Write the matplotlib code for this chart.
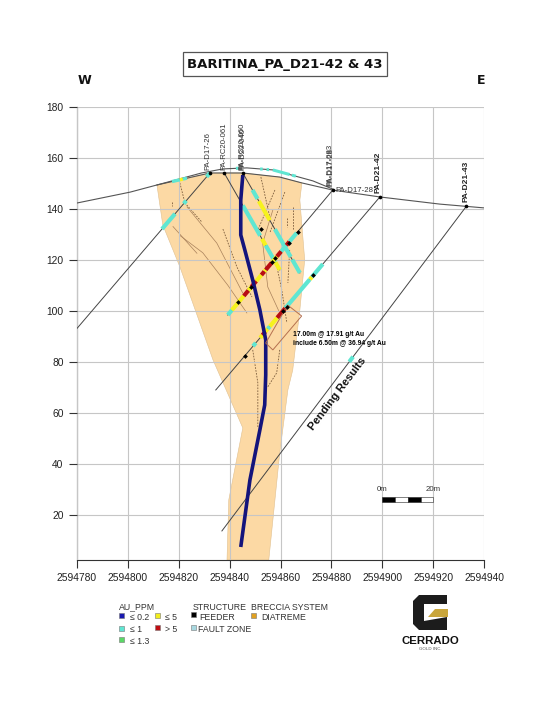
import numpy as np
import matplotlib
matplotlib.use("Agg")
import matplotlib.pyplot as plt
from matplotlib.patches import Polygon, Rectangle

plt.rcParams['font.family'] = ['Liberation Sans', 'DejaVu Sans']

E0 = 2594000  # eastings below are written without this

# topography
topo_x = [780, 801, 811.5, 832.3, 845.2, 859.7, 868.4, 880.5, 899, 922.5, 940]
topo_y = [142.2, 146.5, 149.3, 154, 154, 152.4, 150.1, 147.3, 144.6, 141.8, 140.3]
topo2_x = [811.5, 829, 837.4, 846.8, 857, 872.7, 880.5]
topo2_y = [149.3, 154, 155.6, 156, 155.2, 150.9, 147.7]

# diatreme outline
diat_x = [811.5, 832.3, 845.2, 859.7, 868.4, 867.6, 869.5, 867.6, 864.8, 862.9, 859.7,
          855.4, 839, 839.7, 845.2, 833.5, 820.5, 813.8]
diat_y = [149.3, 154, 154, 152.4, 150.1, 143.4, 119.9, 100.3, 76.7, 68.9, 44.2,
          2.2, 2.2, 25.8, 54, 80.7, 117.2, 133.6]

# main hole
blue_x = [845.2, 844.4, 844.4, 846, 849.1, 851.9, 854.2, 854.2, 853.8, 851.9, 848, 844.4]
blue_y = [153.2, 143.4, 129.7, 123.8, 112, 100.3, 88.5, 74.8, 63, 53.2, 33.6, 7.3]

# straight holes: collar and end
d17_26 = ([832.3, 780], [154, 92.9])
rc20_061 = ([837.9, 859.7], [154, 116])
rc20_060 = ([845.2, 867.6], [154, 114.8])
d17_28 = ([880.5, 839.3], [147.3, 98.3])
d21_42 = ([899, 834.6], [144.6, 68.9])
d21_43 = ([933, 837], [141, 13.6])

# assay intervals: from easting, to easting, grade class
iv_d17_26 = [(813.5, 818.6, 'c'), (822, 823, 'c'), (831, 832.3, 'c')]
iv_061 = [(845.2, 852, 'c'), (852.7, 854.2, 'y'), (854.2, 858, 'c'), (858, 859.7, 'y')]
iv_060 = [(849, 851, 'c'), (851.5, 855.8, 'y'), (857.8, 861.7, 'c'), (862, 864, 'c'), (864.6, 867.6, 'c')]
iv_d17_28 = [(839.3, 840.9, 'c'), (840.9, 845.6, 'y'), (845.6, 847.4, 'r'), (847.4, 848.6, 'y'),
             (848.6, 850.5, 'r'), (850.5, 852.5, 'y'), (852.5, 853.7, 'r'), (853.7, 854.2, 'y'),
             (854.2, 856.6, 'r'), (856.6, 858.6, 'y'), (858.6, 860.3, 'r'), (860.3, 862.3, 'c'),
             (862.3, 863.5, 'r'), (863.5, 866.4, 'c')]
iv_d21_42 = [(849.2, 850.3, 'c'), (852, 852.9, 'y'), (852.9, 854.1, 'r'), (854.1, 855, 'y'),
             (855, 855.8, 'c'), (855.8, 858.7, 'y'), (858.7, 861.9, 'r'), (861.9, 871.5, 'c'),
             (871.5, 872.3, 'y'), (872.3, 876.6, 'c')]
iv_d21_43 = [(887, 888.5, 'c')]
iv_topo = [(817.4, 820.5, 'c'), (820.5, 821.7, 'y'), (821.7, 823.3, 'c')]
iv_topo2 = [(842.5, 843.5, 'c'), (852, 853, 'c'), (854.5, 855.5, 'c'), (857, 863.6, 'c'), (864.5, 866, 'c')]

# feeder points on holes (eastings)
feed_d17_28 = [843.5, 848.5, 856.8, 858, 866.8]
feed_d21_42 = [846, 860.8, 862.4, 872.9]
feed_other = [(852.5, 132), (863.3, 126.5)]

# fault traces
solid_faults = [([817.8, 827.2], [133, 122.5]),
                ([820.5, 829.5, 839.3, 846.8], [129.5, 122.7, 110, 99.1]),
                ([823.3, 835, 845.2], [140.7, 126.5, 106.9]),
                ([857, 853, 855, 859.7], [139.5, 126.5, 109.3, 99.1])]
dash_faults = [([852.3, 855.8], [152.4, 136.7]),
               ([857.8, 851.1], [147.3, 131.6]),
               ([861.7, 855.8], [146.5, 130.5]),
               ([862.5, 862.5], [136.4, 132.8]),
               ([864.8, 864.8], [140.7, 131.6]),
               ([817.4, 817.4], [142.6, 141]),
               ([820.5, 822.5, 829.1], [150.1, 142.2, 134.8]),
               ([837.4, 842.9, 848.8], [132, 117.1, 105.4]),
               ([849.1, 851.1, 851.1], [84.6, 71.7, 54.4]),
               ([859.7, 858.5, 855], [84.6, 75.6, 70.1]),
               ([857.8, 860.5, 862.5], [121.1, 108.1, 95.2]),
               ([863.6, 862.9], [123.8, 110.9])]

# intercept box
box_x = [862.8, 868.3, 857, 854.2]
box_y = [102.2, 97.9, 84.6, 87.3]

x_ticks = [2594780, 2594800, 2594820, 2594840, 2594860, 2594880, 2594900, 2594920, 2594940]
y_ticks = [20, 40, 60, 80, 100, 120, 140, 160, 180]

colors = {'c': '#5fe6d2', 'y': '#f6f21e', 'r': '#b80d12'}

fig = plt.figure(figsize=(5.5, 7.11), dpi=100)
ax = fig.add_axes([76.7 / 550, 1 - 560 / 711, (484.3 - 76.7) / 550, (560 - 106.7) / 711])
ax.set_xlim(E0 + 780, E0 + 940)
ax.set_ylim(2.2, 180)
ax.set_xticks(x_ticks)
ax.set_yticks(y_ticks)
ax.ticklabel_format(useOffset=False, style='plain')
ax.tick_params(labelsize=7.4, length=6, width=0.8, color='#333333', labelcolor='#222222', pad=3.5)
ax.spines['top'].set_visible(False)
ax.spines['right'].set_visible(False)
ax.spines['left'].set_color('#333333')
ax.spines['bottom'].set_color('#333333')


def east(v):
    return np.asarray(v) + E0


ax.add_patch(Polygon(np.column_stack([east(diat_x), diat_y]), closed=True,
                     fc='#fcd9a4', ec='#e0c090', lw=0.4, zorder=1))
ax.grid(True, color='#c6c6c6', lw=0.8, zorder=1.6)
ax.set_axisbelow(False)
for g in ax.get_xgridlines() + ax.get_ygridlines():
    g.set_zorder(1.6)

for xs, ys in solid_faults:
    ax.plot(east(xs), ys, color='#a8805a', lw=0.5, zorder=2)
for xs, ys in dash_faults:
    ax.plot(east(xs), ys, color='#7a5a3a', lw=0.6, ls=(0, (2, 1.5)), zorder=2)

ax.plot(east(topo_x), topo_y, color='#555555', lw=0.8, zorder=3)
ax.plot(east(topo2_x), topo2_y, color='#555555', lw=0.8, zorder=3)

holes = [d17_26, rc20_061, rc20_060, d17_28, d21_42, d21_43]
for xs, ys in holes:
    ax.plot(east(xs), ys, color='#444444', lw=0.7, zorder=3)


def draw_intervals(hx, hy, intervals, lw=3.0):
    order = np.argsort(hx)
    hx = np.asarray(hx)[order]
    hy = np.asarray(hy)[order]
    for a, b, g in intervals:
        ya, yb = np.interp([a, b], hx, hy)
        ax.plot(east([a, b]), [ya, yb], color=colors[g], lw=lw, solid_capstyle='butt', zorder=4)


draw_intervals(*d17_26, iv_d17_26)
draw_intervals(*rc20_061, iv_061)
draw_intervals(*rc20_060, iv_060)
draw_intervals(*d17_28, iv_d17_28)
draw_intervals(*d21_42, iv_d21_42)
draw_intervals(*d21_43, iv_d21_43)
draw_intervals(topo_x, topo_y, iv_topo, lw=2.4)
draw_intervals(topo2_x, topo2_y, iv_topo2, lw=2.2)

ax.plot(east(blue_x), blue_y, color='#14147c', lw=2.6, solid_capstyle='butt', zorder=5)

# feeders
fx = feed_d17_28 + feed_d21_42 + [p[0] for p in feed_other]
fy = list(np.interp(feed_d17_28, d17_28[0][::-1], d17_28[1][::-1])) + \
    list(np.interp(feed_d21_42, d21_42[0][::-1], d21_42[1][::-1])) + [p[1] for p in feed_other]
ax.scatter(east(fx), fy, s=6, color='black', marker='D', lw=0, zorder=6)

# collars
collar_x = [h[0][0] for h in holes]
collar_y = [h[1][0] for h in holes]
ax.scatter(east(collar_x), collar_y, s=7, color='black', lw=0, zorder=6)

ax.add_patch(Polygon(np.column_stack([east(box_x), box_y]), closed=True, fc='none',
                     ec='#b5704f', lw=0.7, zorder=5))

# hole names, the overprinted ones are overprinted in the source too
lab = dict(rotation=90, ha='center', va='bottom', fontsize=5.6, color='#333333', zorder=7)
ax.text(east(831.6), 155, 'PA-D17-26', **lab)
ax.text(east(837.6), 155, 'PA-RC20-061', **lab)
ax.text(east(845.0), 155, 'PA-RC20-060', **lab)
ax.text(east(845.2), 155, 'PA-D20-040', **lab)
ax.text(east(879.4), 149, 'PA-D17-083', **lab)
ax.text(east(879.7), 149, 'PA-D17-28', **lab)
ax.text(east(881.5), 147.2, 'PA-D17-28', fontsize=5.6, color='#333333', va='center', zorder=7)
ax.text(east(898.3), 146.3, 'PA-D21-42', rotation=90, ha='center', va='bottom', fontsize=6,
        fontweight='bold', color='#222222', zorder=7)
ax.text(east(932.7), 142.5, 'PA-D21-43', rotation=90, ha='center', va='bottom', fontsize=6,
        fontweight='bold', color='#222222', zorder=7)

ax.text(east(865), 90.5, '17.00m @ 17.91 g/t Au', fontsize=4.9, fontweight='bold', va='center', zorder=7)
ax.text(east(865), 87.2, 'include 6.50m @ 36.94 g/t Au', fontsize=4.9, fontweight='bold', va='center', zorder=7)
ax.text(east(882.5), 67.3, 'Pending Results', fontsize=8.1, fontweight='bold', rotation=53,
        rotation_mode='anchor', ha='center', va='center', color='#111111', zorder=7)

# scale bar
for i, c in enumerate(['black', 'white', 'black', 'white']):
    ax.add_patch(Rectangle((east(900 + i * 5), 25), 5, 2, fc=c, ec='#222222', lw=0.4, zorder=6))
ax.text(east(900), 28.5, '0m', fontsize=5.6, ha='center', va='bottom', color='#333333')
ax.text(east(920), 28.5, '20m', fontsize=5.6, ha='center', va='bottom', color='#333333')

# everything outside the plot, in image pixels
ov = fig.add_axes([0, 0, 1, 1], zorder=10)
ov.set_xlim(0, 550)
ov.set_ylim(711, 0)
ov.axis('off')
ov.patch.set_alpha(0)

ov.add_patch(Rectangle((183, 52), 204, 24, fc='white', ec='#555555', lw=0.9))
ov.text(285, 64.5, 'BARITINA_PA_D21-42 & 43', family='DejaVu Sans', fontsize=9.5, fontweight='bold',
        ha='center', va='center', color='#111111')
ov.text(84, 81, 'W', family='DejaVu Sans', fontsize=9, fontweight='bold', ha='center', va='center', color='#111111')
ov.text(481, 81, 'E', family='DejaVu Sans', fontsize=9, fontweight='bold', ha='center', va='center', color='#111111')

leg_text = dict(fontsize=6.3, va='center', color='#333333')
leg_box = [(119, 612.5, '#1a1ab0'), (155, 612.5, '#f2ee1c'), (119, 626, '#5fe6d2'), (155, 625, '#c00d12'),
           (119, 637, '#5ad866'), (191, 612, '#000000'), (191, 625, '#a8d8e0'), (251, 613, '#e0a020')]
for lx, ly, c in leg_box:
    ov.add_patch(Rectangle((lx, ly), 5, 5, fc=c, ec='#777777', lw=0.4))
ov.text(119, 607, 'AU_PPM', **leg_text)
ov.text(130, 618, '≤ 0.2', **leg_text)
ov.text(165, 618, '≤ 5', **leg_text)
ov.text(130, 630, '≤ 1', **leg_text)
ov.text(165, 630, '> 5', **leg_text)
ov.text(130, 641, '≤ 1.3', **leg_text)
ov.text(193, 607, 'STRUCTURE', **leg_text)
ov.text(199, 617, 'FEEDER', **leg_text)
ov.text(198, 629, 'FAULT ZONE', **leg_text)
ov.text(251, 607, 'BRECCIA SYSTEM', **leg_text)
ov.text(261, 618, 'DIATREME', **leg_text)

# logo
dark = '#1c1c1c'
ov.add_patch(Polygon([(419, 595), (447, 595), (447, 604), (424, 604), (424, 621), (447, 617), (447, 630),
                      (419, 630), (413, 624), (413, 601)], closed=True, fc=dark, ec='none'))
ov.add_patch(Polygon([(428, 617), (435, 609), (448, 609), (448, 617)], closed=True, fc='#c9a63c', ec='none'))
ov.text(430, 641, 'CERRADO', fontsize=8.2, fontweight='bold', ha='center', va='center', color='#111111')
ov.text(430, 648.5, 'GOLD INC.', fontsize=3.2, ha='center', va='center', color='#555555')

fig.savefig('out.png', dpi=100)
